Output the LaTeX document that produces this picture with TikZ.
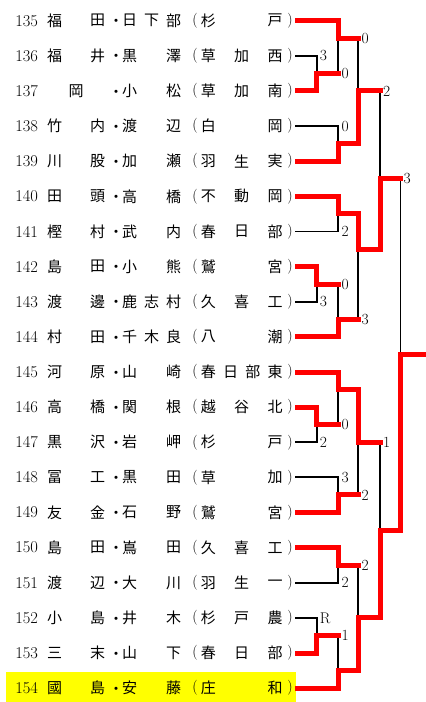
\documentclass[tikz,border=0pt]{standalone}
\usepackage{fontspec}
\newfontfamily\jpfont{Noto Sans CJK JP}
\usepackage{tikz}
\definecolor{winred}{rgb}{1,0,0}
\definecolor{markyellow}{rgb}{1,1,0}

\tikzset{
  kanji/.style={font=\jpfont\fontsize{15}{15}\selectfont, inner sep=0pt},
  dotsep/.style={kanji, xshift=5pt, yshift=-2.5pt},
  num/.style={font=\fontsize{16.5}{16.5}\selectfont, inner sep=0pt},
  paren/.style={font=\fontsize{15}{15}\selectfont, inner sep=0pt},
  score/.style={font=\fontsize{15.5}{15.5}\selectfont, inner sep=0pt, anchor=west, xshift=3pt},
  win/.style={winred, line width=5pt, line cap=rect, line join=miter, shorten <=2.5pt},
  lose/.style={black, line width=1.8pt},
}

% characters of one cell, spread evenly from left to right
\newcommand\spreadcell[5]{%
  \foreach \ch [count=\k] in {#5} {\global\let\ncell\k}%
  \foreach \ch [count=\k] in {#5} {%
    \pgfmathsetmacro\cx{\ncell==1 ? (#3+#4)/2 : #3+(\k-1)*(#4-#3)/max(\ncell-1,1)}%
    \node[kanji] (#2-\k) at (\cx,#1) {\ch};
  }%
}
% one line: row, number, surname, given name, school
\newcommand\entry[5]{%
  \node[num] (n#2) at (26.7,#1) {#2};
  \spreadcell{#1}{s#2}{54.5}{97.5}{#3}
  \node[dotsep] (m#2) at (111,#1) {・};
  \spreadcell{#1}{g#2}{129.5}{173.5}{#4}
  \node[paren] (l#2) at (195,#1) {(};
  \spreadcell{#1}{h#2}{208.3}{275}{#5}
  \node[paren] (r#2) at (290,#1) {)};
  \coordinate (e#2) at (295,#1);
}

\begin{document}
\begin{tikzpicture}[x=1pt, y=-35.13pt]
  \useasboundingbox (0,-0.5893) rectangle (426,19.3937);
  % Sieger markiert
  \fill[markyellow] (6,18.54) rectangle (296,19.3937);
  % Teilnehmer
  \entry{0}{135}{福,田}{日,下,部}{杉,戸}
  \entry{1}{136}{福,井}{黒,澤}{草,加,西}
  \entry{2}{137}{岡}{小,松}{草,加,南}
  \entry{3}{138}{竹,内}{渡,辺}{白,岡}
  \entry{4}{139}{川,股}{加,瀬}{羽,生,実}
  \entry{5}{140}{田,頭}{高,橋}{不,動,岡}
  \entry{6}{141}{樫,村}{武,内}{春,日,部}
  \entry{7}{142}{島,田}{小,熊}{鷲,宮}
  \entry{8}{143}{渡,邊}{鹿,志,村}{久,喜,工}
  \entry{9}{144}{村,田}{千,木,良}{八,潮}
  \entry{10}{145}{河,原}{山,崎}{春,日,部,東}
  \entry{11}{146}{高,橋}{関,根}{越,谷,北}
  \entry{12}{147}{黒,沢}{岩,岬}{杉,戸}
  \entry{13}{148}{冨,工}{黒,田}{草,加}
  \entry{14}{149}{友,金}{石,野}{鷲,宮}
  \entry{15}{150}{島,田}{嶌,田}{久,喜,工}
  \entry{16}{151}{渡,辺}{大,川}{羽,生,一}
  \entry{17}{152}{小,島}{井,木}{杉,戸,農}
  \entry{18}{153}{三,末}{山,下}{春,日,部}
  \entry{19}{154}{國,島}{安,藤}{庄,和}
  % Spielpunkte (obere Haelfte)
  \coordinate (jA) at (316.7,1.5);
  \coordinate (jB) at (338.3,0.5);
  \coordinate (jC) at (338.3,3.5);
  \coordinate (jD) at (358.3,2);
  \coordinate (jE) at (338.3,5.5);
  \coordinate (jF) at (316.7,7.5);
  \coordinate (jG) at (338.3,8.5);
  \coordinate (jH) at (358.3,6.5);
  \coordinate (jI) at (380,4.5);
  % Spielpunkte (untere Haelfte)
  \coordinate (jJ) at (316.7,11.5);
  \coordinate (jK) at (338.3,10.5);
  \coordinate (jL) at (338.3,13.5);
  \coordinate (jM) at (358.3,12);
  \coordinate (jN) at (338.3,15.5);
  \coordinate (jO) at (316.7,17.5);
  \coordinate (jP) at (338.3,18.5);
  \coordinate (jQ) at (358.3,17);
  \coordinate (jR) at (380,14.5);
  % Finale
  \coordinate (jS) at (400.5,9.5);
  \coordinate (champ) at (426,9.5);
  % Verlierer
  \draw[lose] (e136) -| (jA);
  \draw[lose] (jA -| jB) -- (jB);
  \draw[lose] (e138) -| (jC);
  \draw[lose] (jB -| jD) -- (jD);
  \draw[lose] (e141) -| (jE);
  \draw[lose] (e143) -| (jF);
  \draw[lose] (jF -| jG) -- (jG);
  \draw[lose] (jG -| jH) -- (jH);
  \draw[lose] (jD -| jI) -- (jI);
  \draw[lose] (jI -| jS) -- (jS);
  \draw[lose] (e147) -| (jJ);
  \draw[lose] (jJ -| jK) -- (jK);
  \draw[lose] (e148) -| (jL);
  \draw[lose] (jL -| jM) -- (jM);
  \draw[lose] (jM -| jR) -- (jR);
  \draw[lose] (e151) -| (jN);
  \draw[lose] (e152) -| (jO);
  \draw[lose] (jO -| jP) -- (jP);
  \draw[lose] (jN -| jQ) -- (jQ);
  % Sieger
  \draw[win] (e137) -| (jA) -- (jA -| jB);
  \draw[win] (e135) -| (jB) -- (jB -| jD);
  \draw[win] (e139) -| (jC) -- (jC -| jD) -- (jD) -- (jD -| jI);
  \draw[win] (e140) -| (jE) -- (jE -| jH) -- (jH) -- (jH -| jI) -- (jI) -- (jI -| jS);
  \draw[win] (e142) -| (jF) -- (jF -| jG);
  \draw[win] (e144) -| (jG) -- (jG -| jH);
  \draw[win] (e146) -| (jJ) -- (jJ -| jK);
  \draw[win] (e145) -| (jK) -- (jK -| jM) -- (jM) -- (jM -| jR);
  \draw[win] (e149) -| (jL) -- (jL -| jM);
  \draw[win] (e150) -| (jN) -- (jN -| jQ);
  \draw[win] (e153) -| (jO) -- (jO -| jP);
  \draw[win] (e154) -| (jP) -- (jP -| jQ) -- (jQ) -- (jQ -| jR) -- (jR) -- (jR -| jS) -- (jS) -- (champ);
  % Ergebnisse
  \node[score] (p136) at (e136 -| jA) {3};
  \node[score] (pA) at (jA -| jB) {0};
  \node[score] (pB) at (jB -| jD) {0};
  \node[score] (p138) at (e138 -| jC) {0};
  \node[score] (pD) at (jD -| jI) {2};
  \node[score] (p141) at (e141 -| jE) {2};
  \node[score] (p143) at (e143 -| jF) {3};
  \node[score] (pF) at (jF -| jG) {0};
  \node[score] (pG) at (jG -| jH) {3};
  \node[score] (pI) at (jI -| jS) {3};
  \node[score] (p147) at (e147 -| jJ) {2};
  \node[score] (pJ) at (jJ -| jK) {0};
  \node[score] (p148) at (e148 -| jL) {3};
  \node[score] (pL) at (jL -| jM) {2};
  \node[score] (pM) at (jM -| jR) {1};
  \node[score] (p151) at (e151 -| jN) {2};
  \node[score] (pN) at (jN -| jQ) {2};
  \node[score] (p152) at (e152 -| jO) {R};
  \node[score] (pO) at (jO -| jP) {1};
\end{tikzpicture}
\end{document}
